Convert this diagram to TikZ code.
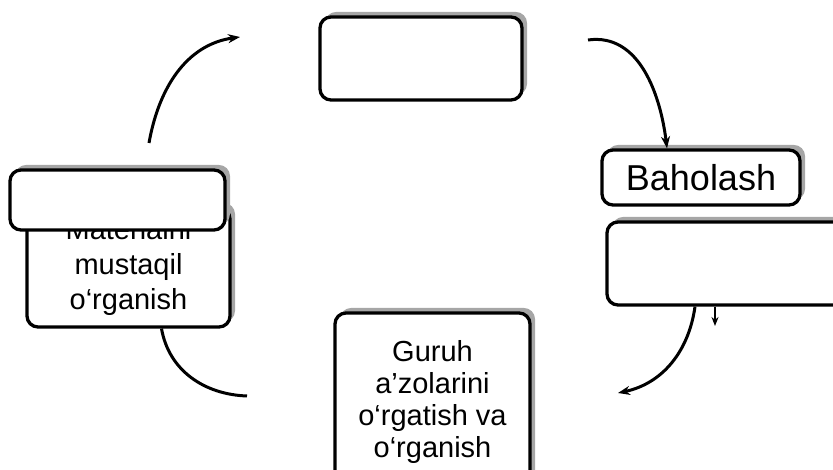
\documentclass[tikz,border=0pt]{standalone}
\usepackage{fontspec}
\setmainfont{Liberation Sans}
\usetikzlibrary{shadows,arrows.meta}

\tikzstyle{block} = [rectangle, draw, line width=3.3pt, fill=white, %fill=gray!10,
     rounded corners=11pt, inner sep=0pt, align=center,
     general shadow={fill=gray!70, shadow xshift=5pt, shadow yshift=5pt}]
\tikzstyle{arrow} = [draw, line width=3pt, -{Stealth[length=12pt,width=9pt]}]
\tikzstyle{arc} = [draw, line width=3pt]

\begin{document}
\begin{tikzpicture}[x=1pt,y=1pt]
\useasboundingbox (0,0) rectangle (833,470);
\clip (0,0) rectangle (833,470);

\node[block, minimum width=202pt, minimum height=83pt](tayyorlov) at (421,411.5) {};
\node[block, minimum width=198pt, minimum height=55pt, font=\fontsize{36}{40}\selectfont](baholash) at (701,292.5)
  {Baholash};
\node[block, minimum width=240pt, minimum height=83pt](natija) at (727,206.5) {};

\node[block, minimum width=203pt, minimum height=119pt, font=\fontsize{29}{35}\selectfont](mustaqil) at (128.5,202.5)
  {Materialni\\mustaqil\\o‘rganish};
\node[block, minimum width=215pt, minimum height=60pt](mavzu) at (117.5,270) {};

\node[block, minimum width=195pt, minimum height=179pt, font=\fontsize{29}{32}\selectfont](guruh) at (432.5,67.5)
  {Guruh\\a’zolarini\\o‘rgatish va\\o‘rganish};

\coordinate (start1) at (149,327);
\coordinate (end1) at (240,433);
\coordinate (start2) at (588,430);
\coordinate (end3) at (618,77);
\coordinate (tick) at (715,144);
\coordinate (end4) at (247,74);

\path[arrow] (start1) to[out=80,in=188] (end1);
\path[arrow] (start2) to[out=8,in=97] ([xshift=-34pt]baholash.north);
\path[arrow] ([xshift=-32pt]natija.south) to[out=-98,in=12] (end3);
\path[draw, line width=2pt, -{Stealth[length=9pt,width=7pt]}] ([xshift=-12pt]natija.south) -- (tick);
\path[arc] ([xshift=33pt]mustaqil.south) to[out=-80,in=178] (end4);
\end{tikzpicture}
\end{document}
